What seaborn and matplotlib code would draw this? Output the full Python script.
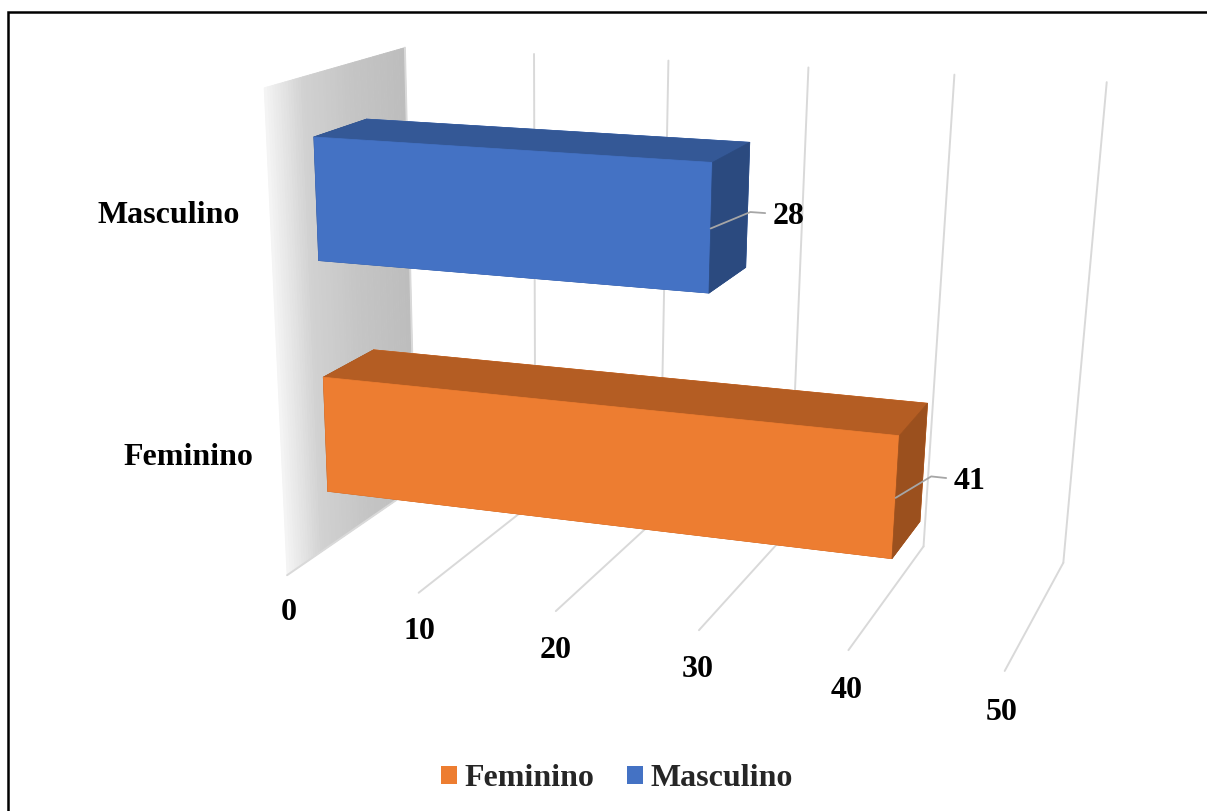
import numpy as np
import matplotlib
matplotlib.use("Agg")
import matplotlib.pyplot as plt
import seaborn as sns
from matplotlib.patches import Patch, Rectangle
from mpl_toolkits.mplot3d.art3d import Poly3DCollection

# ---- data ----
categories = ["Feminino", "Masculino"]
values = [41, 28]
tick_values = [0, 10, 20, 30, 40, 50]
front_colors = ["#ED7D31", "#4472C4"]
top_colors = ["#B45D23", "#345896"]
side_colors = ["#9B501E", "#2B4A7F"]

sns.set_theme(style="white")
plt.rcParams["font.family"] = ["Liberation Serif", "DejaVu Serif"]
FS = 23
grid_c = "#D9D9D9"

W, H = 1207, 811
fig = plt.figure(figsize=(W / 100, H / 100), dpi=100)
fig.patch.set_facecolor("white")

# scene size, in value units
depth = 21.9        # floor depth
band = 16.53        # one category slot
bar_t = 8.34        # bar thickness (height and depth)
wall_h = band * len(categories)
y_front = (depth - bar_t) / 2

# camera, set up to look like Excel's 3D bar view
ELEV, AZIM = 22.84, -69.10
FOCAL_PX = 2321
PP = (552.5, 708.0)                     # principal point, px from top-left
EYE = np.array([71.60, -135.75, 54.15])  # camera position in value units
CAM_DIST = 150
SPAN = 100
S = 2000                                # axes size in px

ps = np.array([np.cos(np.deg2rad(ELEV)) * np.cos(np.deg2rad(AZIM)),
               np.cos(np.deg2rad(ELEV)) * np.sin(np.deg2rad(AZIM)),
               np.sin(np.deg2rad(ELEV))])
CENTER = EYE - CAM_DIST * ps

ax = fig.add_axes([0, 0, 1, 1], projection="3d", computed_zorder=False)
ax.view_init(elev=ELEV, azim=AZIM, roll=0)
x0, x1 = ax.viewLim.intervalx
y0, y1 = ax.viewLim.intervaly
fl = FOCAL_PX * (x1 - x0) / S
ax.set_proj_type("persp", focal_length=fl)
left = PP[0] - S * (-x0) / (x1 - x0)
bottom = (H - PP[1]) - S * (-y0) / (y1 - y0)
ax.set_position([left / W, bottom / H, S / W, S / H])
zoom = 10 * fl * np.sqrt(3) * SPAN / (1.8294640721620434 * 25 / 24 * CAM_DIST)
ax.set_box_aspect((1, 1, 1), zoom=zoom)
ax.set_axis_off()
ax.patch.set_alpha(0)

# side wall with grey gradient
n = 60
wall_polys, wall_cols = [], []
for i in range(n):
    ya, yb = depth * i / n, depth * (i + 1) / n
    wall_polys.append([(0, ya, 0), (0, yb, 0), (0, yb, wall_h), (0, ya, wall_h)])
    g = np.interp((i + 0.5) / n, [0, 0.25, 0.6, 1], [0.96, 0.82, 0.77, 0.74])
    wall_cols.append((g, g, g))
ax.add_collection3d(Poly3DCollection(wall_polys, facecolors=wall_cols,
                                     edgecolors=wall_cols, linewidths=0.6, zorder=0))

# gridlines on floor and back wall
for v in tick_values:
    ax.plot([v, v], [0, depth], [0, 0], color=grid_c, lw=1.4, zorder=1)
    ax.plot([v, v], [depth, depth], [0, wall_h], color=grid_c, lw=1.4, zorder=1)

# bars
for i, val in enumerate(values):
    zc = band * (i + 0.5)
    cols = [top_colors[i], top_colors[i], front_colors[i], front_colors[i],
            side_colors[i], side_colors[i]]
    ax.bar3d(0, y_front, zc - bar_t / 2, val, bar_t, bar_t, color=cols,
             shade=False, edgecolor=cols, linewidth=0.5, zorder=3)
    # leader line + value label
    ax.plot([val, val + 1.4, val + 2.4], [y_front, depth / 2, depth / 2],
            [zc, zc + 0.4, zc + 0.4], color="#A6A6A6", lw=1.3, zorder=5)
    ax.text(val + 2.9, depth / 2, zc + 0.2, str(val), ha="left", va="center",
            fontsize=FS, fontweight="bold", color="black", zorder=6)

# category labels
for i, cat in enumerate(categories):
    ax.text(-2.2, 0, band * (i + 0.5), cat, ha="right", va="center",
            fontsize=FS, fontweight="bold", color="black", zorder=6)

# value axis labels
for v in tick_values:
    ax.text(v, 0, -2.8, str(v), ha="center", va="center",
            fontsize=FS, fontweight="bold", color="black", zorder=6)

ax.set_xlim(CENTER[0] - SPAN / 2, CENTER[0] + SPAN / 2)
ax.set_ylim(CENTER[1] - SPAN / 2, CENTER[1] + SPAN / 2)
ax.set_zlim(CENTER[2] - SPAN / 2, CENTER[2] + SPAN / 2)
ax.set_xticks([])
ax.set_yticks([])
ax.set_zticks([])

handles = [Patch(facecolor=c, edgecolor="none", label=l)
           for c, l in zip(front_colors, categories)]
fig.legend(handles=handles, loc="center", bbox_to_anchor=(617 / W, 1 - 779 / H),
           ncol=2, frameon=False, prop={"weight": "bold", "size": FS},
           handlelength=0.5, handleheight=0.5, handletextpad=0.25, columnspacing=1.0)

# outer chart border
fig.add_artist(Rectangle((7.5 / W, -0.1), 1.2, 1.1 - 12.5 / H, transform=fig.transFigure,
                         fill=False, edgecolor="black", lw=1.8))

fig.savefig("out.png", dpi=100)
